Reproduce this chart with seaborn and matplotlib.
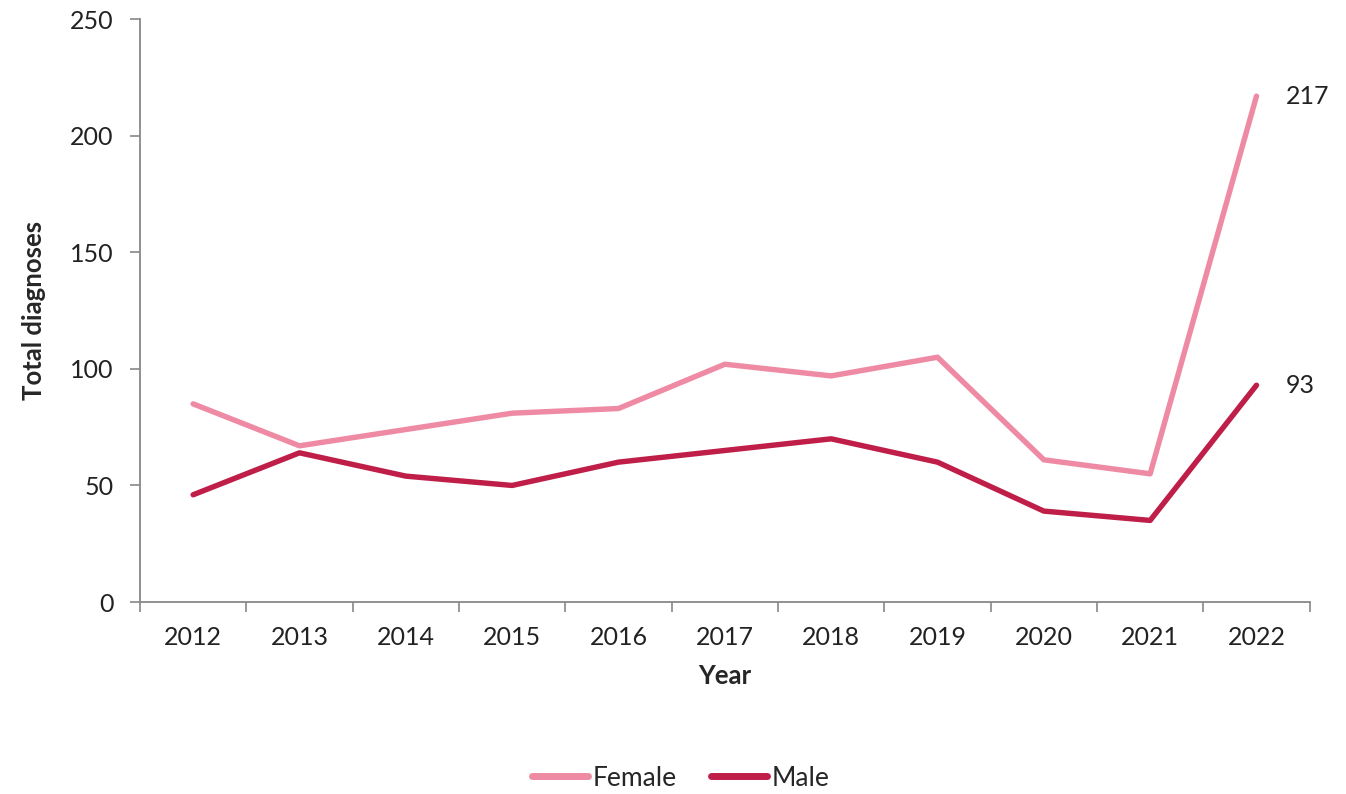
import matplotlib
matplotlib.use("Agg")
import matplotlib.pyplot as plt
import seaborn as sns
import pandas as pd
import numpy as np

years = ["2012", "2013", "2014", "2015", "2016", "2017", "2018", "2019", "2020", "2021", "2022"]
female = [85, 67, 74, 81, 83, 102, 97, 105, 61, 55, 217]
male = [46, 64, 54, 50, 60, 65, 70, 60, 39, 35, 93]
series_names = ["Female", "Male"]
colors = ["#EE8AA3", "#BE1E48"]

sns.set_theme(style="white")
plt.rcParams["font.family"] = ["Lato", "DejaVu Sans"]

pos = np.arange(len(years))
df = pd.DataFrame({
    "pos": np.concatenate([pos, pos]),
    "value": female + male,
    "Sex": [series_names[0]] * len(years) + [series_names[1]] * len(years),
})

fig = plt.figure(figsize=(13.46, 7.94), dpi=100)
ax = fig.add_axes([0.104, 0.2418, 0.869, 0.734])
sns.lineplot(data=df, x="pos", y="value", hue="Sex", palette=colors, linewidth=3.9,
             ax=ax, legend=True, solid_capstyle="round")

ax.set_xlim(-0.5, len(years) - 0.5)
ax.set_ylim(0, 250)
ax.set_yticks([0, 50, 100, 150, 200, 250])
ax.set_xticks(pos)
ax.set_xticklabels(years)
ax.set_xticks(np.arange(-0.5, len(years)), minor=True)
ax.tick_params(axis="x", which="major", length=0, labelsize=18, pad=17, colors="#222222")
ax.tick_params(axis="x", which="minor", length=7, width=1.2, color="#888888", direction="out", bottom=True)
ax.tick_params(axis="y", length=7, width=1.2, color="#888888", direction="out", left=True, labelsize=18, pad=12, labelcolor="#222222")

for s in ["top", "right"]:
    ax.spines[s].set_visible(False)
for s in ["left", "bottom"]:
    ax.spines[s].set_color("#888888")
    ax.spines[s].set_linewidth(1.3)

ax.set_xlabel("Year", fontsize=18.5, fontweight="bold", labelpad=11)
ax.set_ylabel("Total diagnoses", fontsize=18.5, fontweight="bold", labelpad=17)

ax.annotate(str(female[-1]), (pos[-1], female[-1]), xytext=(21, 0), textcoords="offset points",
            va="center", ha="left", fontsize=18, color="#222222")
ax.annotate(str(male[-1]), (pos[-1], male[-1]), xytext=(21, 0), textcoords="offset points",
            va="center", ha="left", fontsize=18, color="#222222")

leg = ax.legend(loc="center", bbox_to_anchor=(0.462, -0.302), ncol=2, frameon=False,
                fontsize=19, handlelength=2.15, handletextpad=0.15, columnspacing=1.3, title=None)
for line in leg.get_lines():
    line.set_linewidth(5)

fig.savefig("out.png", dpi=100)
